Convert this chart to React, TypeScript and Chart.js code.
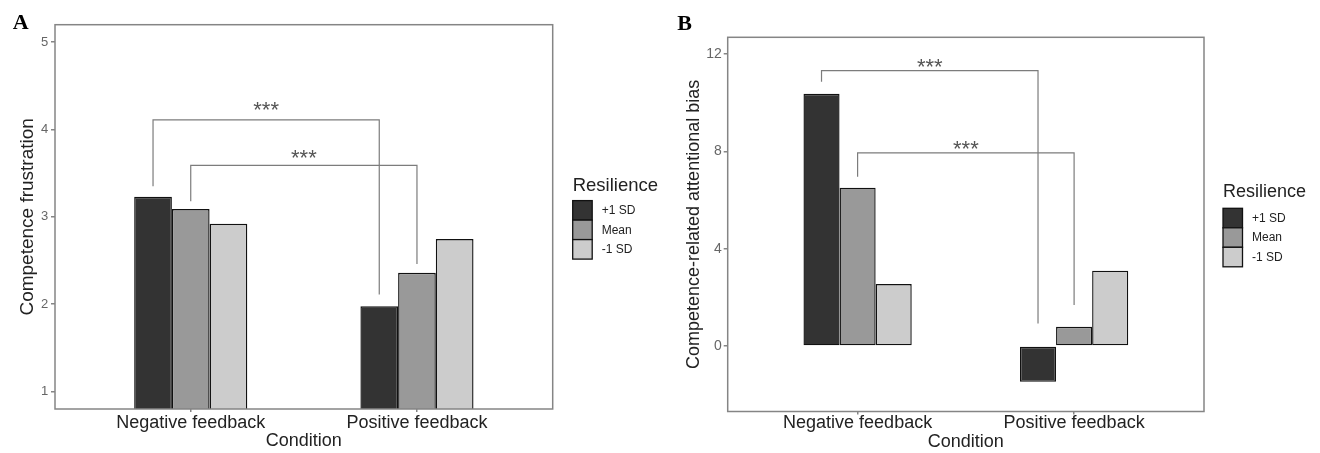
import React, { useEffect, useRef } from "react";
import { Chart, registerables } from "chart.js";

Chart.register(...registerables);

// ---------- data ----------
const categories = ["Negative feedback", "Positive feedback"];
const seriesLabels = ["+1 SD", "Mean", "-1 SD"];

const frustrationPlus = [3.23, 1.975];
const frustrationMean = [3.09, 2.36];
const frustrationMinus = [2.92, 2.745];

const biasPlus = [10.37, -1.47];
const biasMean = [6.51, 0.79];
const biasMinus = [2.55, 3.1];

const ticksA = [1, 2, 3, 4, 5];
const ticksB = [0, 4, 8, 12];
const rangeA = [0.8, 5.2];
const rangeB = [-2.69, 12.69];

// significance brackets (series index, bracket top, left leg end, right leg end)
const bracketSeriesA = [0, 1];
const bracketTopA = [4.11, 3.59];
const bracketLeftEndA = [3.35, 3.18];
const bracketRightEndA = [2.11, 2.46];

const bracketSeriesB = [0, 1];
const bracketTopB = [11.32, 7.94];
const bracketLeftEndB = [10.86, 6.96];
const bracketRightEndB = [0.93, 1.69];

const bracketLabel = "***";

// ---------- styles ----------
const SANS = "'Liberation Sans', Arial, Helvetica, sans-serif";
const SERIF = "'Liberation Serif', 'Times New Roman', serif";
const fills = ["#333333", "#999999", "#cccccc"];
const frameColor = "#858585";
const textDark = "#222222";
const tickGray = "#666666";

type PanelCfg = {
  left: number;
  letter: string;
  letterX: number;
  letterY: number;
  values: number[][];
  ticks: number[];
  range: number[];
  yTitle: string;
  yTitleSize: number;
  yTitlePad: number;
  yTickSize: number;
  yTickPad: number;
  yAxisWidth: number;
  xAxisHeight: number;
  xTickPad: number;
  xTitlePad: number;
  padTop: number;
  padRight: number;
  bracketSeries: number[];
  bracketTop: number[];
  bracketLeftEnd: number[];
  bracketRightEnd: number[];
  starGap: number[];
  legendX: number;
  legendTitleY: number;
  legendTitleSize: number;
  legendKeyTop: number;
};

const panels: PanelCfg[] = [
  {
    left: 0,
    letter: "A",
    letterX: 12.7,
    letterY: 29.3,
    values: [frustrationPlus, frustrationMean, frustrationMinus],
    ticks: ticksA,
    range: rangeA,
    yTitle: "Competence frustration",
    yTitleSize: 19,
    yTitlePad: 16.6,
    yTickSize: 13,
    yTickPad: 2.7,
    yAxisWidth: 55,
    xAxisHeight: 44,
    xTickPad: 0,
    xTitlePad: 1.4,
    padTop: 24.7,
    padRight: 107.3,
    bracketSeries: bracketSeriesA,
    bracketTop: bracketTopA,
    bracketLeftEnd: bracketLeftEndA,
    bracketRightEnd: bracketRightEndA,
    starGap: [15, 12.4],
    legendX: 572.7,
    legendTitleY: 190.7,
    legendTitleSize: 18.5,
    legendKeyTop: 200.6,
  },
  {
    left: 660,
    letter: "B",
    letterX: 17.3,
    letterY: 30,
    values: [biasPlus, biasMean, biasMinus],
    ticks: ticksB,
    range: rangeB,
    yTitle: "Competence-related attentional bias",
    yTitleSize: 18,
    yTitlePad: 23.2,
    yTickSize: 14,
    yTickPad: 2,
    yAxisWidth: 67.7,
    xAxisHeight: 41.5,
    xTickPad: -2,
    xTitlePad: 0,
    padTop: 37.3,
    padRight: 116,
    bracketSeries: bracketSeriesB,
    bracketTop: bracketTopB,
    bracketLeftEnd: bracketLeftEndB,
    bracketRightEnd: bracketRightEndB,
    starGap: [9, 9.4],
    legendX: 563,
    legendTitleY: 196.7,
    legendTitleSize: 18,
    legendKeyTop: 208.3,
  },
];

function makePlugin(cfg: PanelCfg) {
  return {
    id: "decor" + cfg.letter,
    afterDraw(chart: any) {
      const ctx = chart.ctx as CanvasRenderingContext2D;
      const area = chart.chartArea;
      const yScale = chart.scales.y;
      ctx.save();

      // panel frame
      ctx.strokeStyle = frameColor;
      ctx.lineWidth = 1.5;
      ctx.strokeRect(area.left, area.top, area.right - area.left, area.bottom - area.top);

      // significance brackets
      ctx.strokeStyle = "#7c7c7c";
      ctx.lineWidth = 1.2;
      cfg.bracketSeries.forEach((s, i) => {
        const meta = chart.getDatasetMeta(s);
        const x1 = meta.data[0].x;
        const x2 = meta.data[1].x;
        const yt = yScale.getPixelForValue(cfg.bracketTop[i]);
        const yl = yScale.getPixelForValue(cfg.bracketLeftEnd[i]);
        const yr = yScale.getPixelForValue(cfg.bracketRightEnd[i]);
        ctx.beginPath();
        ctx.moveTo(x1, yl);
        ctx.lineTo(x1, yt);
        ctx.lineTo(x2, yt);
        ctx.lineTo(x2, yr);
        ctx.stroke();
        const fs = 22;
        ctx.fillStyle = "#555555";
        ctx.font = `${fs}px ${SANS}`;
        ctx.textAlign = "center";
        ctx.textBaseline = "alphabetic";
        const center = yt - cfg.starGap[i];
        ctx.fillText(bracketLabel, (x1 + x2) / 2, center + 0.57 * fs);
      });

      // legend
      ctx.fillStyle = textDark;
      ctx.font = `${cfg.legendTitleSize}px ${SANS}`;
      ctx.textAlign = "left";
      ctx.textBaseline = "alphabetic";
      ctx.fillText("Resilience", cfg.legendX, cfg.legendTitleY);
      const key = 19.5;
      chart.data.datasets.forEach((ds: any, i: number) => {
        const top = cfg.legendKeyTop + i * key;
        ctx.fillStyle = ds.backgroundColor;
        ctx.fillRect(cfg.legendX, top, key, key);
        ctx.strokeStyle = "#111111";
        ctx.lineWidth = 1.3;
        ctx.strokeRect(cfg.legendX, top, key, key);
        ctx.fillStyle = textDark;
        ctx.font = `12px ${SANS}`;
        ctx.textBaseline = "middle";
        ctx.fillText(ds.label, cfg.legendX + 29, top + key / 2 + 0.5);
      });

      // panel letter
      ctx.fillStyle = "#000000";
      ctx.font = `bold 22px ${SERIF}`;
      ctx.textAlign = "left";
      ctx.textBaseline = "alphabetic";
      ctx.fillText(cfg.letter, cfg.letterX, cfg.letterY);

      ctx.restore();
    },
  };
}

function Panel({ cfg }: { cfg: PanelCfg }) {
  const ref = useRef<HTMLCanvasElement>(null);
  useEffect(() => {
    const datasets = cfg.values.map((vals, si) => ({
      label: seriesLabels[si],
      data: vals.map((v, ci) => ({ x: ci, y: v })),
      backgroundColor: fills[si],
      borderColor: "#111111",
      borderWidth: 1.4,
      borderSkipped: false,
      categoryPercentage: 0.5,
      barPercentage: 1.0,
    }));
    const gridOpts = {
      display: true,
      drawOnChartArea: false,
      drawTicks: true,
      offset: false,
      color: frameColor,
      lineWidth: 1.5,
    };
    const chart = new Chart(ref.current as HTMLCanvasElement, {
      type: "bar",
      data: { datasets } as any,
      options: {
        responsive: false,
        animation: false,
        devicePixelRatio: 1,
        layout: { padding: { left: 0, right: cfg.padRight, top: cfg.padTop, bottom: 0 } },
        plugins: { legend: { display: false }, tooltip: { enabled: false } },
        scales: {
          x: {
            type: "linear",
            offset: false,
            min: -0.6,
            max: 1.6,
            afterBuildTicks: (s: any) => {
              s.ticks = categories.map((_, i) => ({ value: i }));
            },
            afterFit: (s: any) => {
              s.height = cfg.xAxisHeight;
            },
            grid: { ...gridOpts, tickLength: 3 },
            border: { display: false },
            ticks: {
              autoSkip: false,
              maxRotation: 0,
              minRotation: 0,
              color: textDark,
              font: { family: SANS, size: 18 },
              padding: cfg.xTickPad,
              callback: (_v: any, i: number) => categories[i],
            },
            title: {
              display: true,
              text: "Condition",
              color: textDark,
              font: { family: SANS, size: 18 },
              padding: { top: 0, bottom: cfg.xTitlePad },
            },
          },
          y: {
            type: "linear",
            min: cfg.range[0],
            max: cfg.range[1],
            afterBuildTicks: (s: any) => {
              s.ticks = cfg.ticks.map((v) => ({ value: v }));
            },
            afterFit: (s: any) => {
              s.width = cfg.yAxisWidth;
            },
            grid: { ...gridOpts, tickLength: 4 },
            border: { display: false },
            ticks: {
              color: tickGray,
              font: { family: SANS, size: cfg.yTickSize },
              padding: cfg.yTickPad,
            },
            title: {
              display: true,
              text: cfg.yTitle,
              color: textDark,
              font: { family: SANS, size: cfg.yTitleSize },
              padding: { top: cfg.yTitlePad, bottom: 0 },
            },
          },
        },
      } as any,
      plugins: [makePlugin(cfg)],
    });
    return () => chart.destroy();
  }, [cfg]);
  return (
    <canvas
      ref={ref}
      width={660}
      height={453}
      style={{ position: "absolute", left: cfg.left, top: 0, width: 660, height: 453 }}
    />
  );
}

export default function App() {
  return (
    <div style={{ position: "absolute", left: 0, top: 0, width: 1320, height: 453, background: "#ffffff" }}>
      {panels.map((p) => (
        <Panel key={p.letter} cfg={p} />
      ))}
    </div>
  );
}
